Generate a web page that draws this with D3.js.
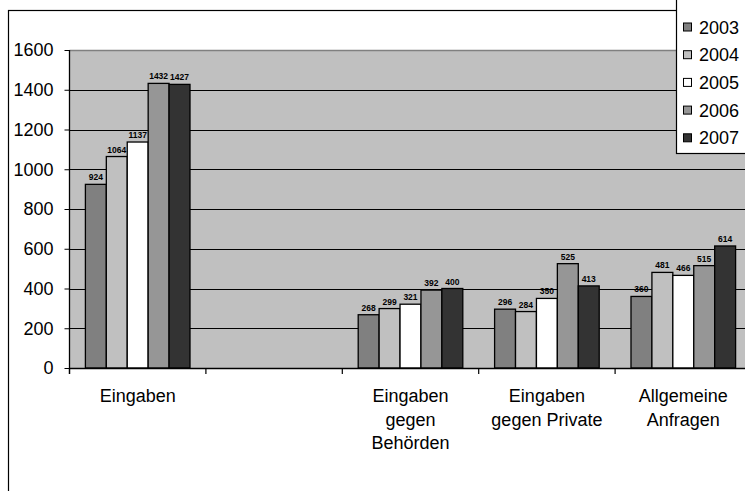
<!DOCTYPE html>
<html>
<head>
<meta charset="utf-8">
<script src="https://cdn.jsdelivr.net/npm/d3@7"></script>
<style>
  html, body { margin: 0; padding: 0; background: #fff; }
  svg { display: block; font-family: "Liberation Sans", Arial, sans-serif; }
</style>
</head>
<body>
<svg id="chart" width="745" height="491"></svg>
<script>
// Categories (the second slot is an empty category in the source table)
const categories = ["Eingaben", "", "Eingaben\ngegen\nBehörden", "Eingaben\ngegen Private", "Allgemeine\nAnfragen"];
const years = ["2003", "2004", "2005", "2006", "2007"];

// One value list per year, aligned with the categories
const values2003 = [924, null, 268, 296, 360];
const values2004 = [1064, null, 299, 284, 481];
const values2005 = [1137, null, 321, 350, 466];
const values2006 = [1432, null, 392, 525, 515];
const values2007 = [1427, null, 400, 413, 614];

const yTicks = [0, 200, 400, 600, 800, 1000, 1200, 1400, 1600];
const yearColors = ["#808080", "#c0c0c0", "#ffffff", "#969696", "#333333"];

const seriesValues = [values2003, values2004, values2005, values2006, values2007];
const catIds = categories.map((c, i) => "c" + i);

const svg = d3.select("#chart");

// Outer chart frame (runs off the right and bottom edges)
svg.append("rect")
  .attr("x", 8.5).attr("y", 10.5)
  .attr("width", 800).attr("height", 600)
  .attr("fill", "#fff").attr("stroke", "#000").attr("stroke-width", 1.2);

const plotLeft = 69.5, plotRight = 751.5, plotTop = 50, plotBottom = 368;

const x = d3.scaleBand().domain(catIds).range([plotLeft, plotRight]).paddingInner(0).paddingOuter(0);
const xs = d3.scaleBand().domain(years).range([0, x.bandwidth()]).paddingInner(0).paddingOuter(0.76);
const y = d3.scaleLinear().domain([0, 1600]).range([plotBottom, plotTop]);

// Plot background
svg.append("rect")
  .attr("x", plotLeft).attr("y", y(1600))
  .attr("width", plotRight - plotLeft).attr("height", y(0) - y(1600))
  .attr("fill", "#c0c0c0");

// Horizontal gridlines
svg.append("g").selectAll("line")
  .data(yTicks.filter(v => v > 0 && v < 1600))
  .join("line")
  .attr("x1", plotLeft).attr("x2", plotRight)
  .attr("y1", d => Math.round(y(d)) + 0.5).attr("y2", d => Math.round(y(d)) + 0.5)
  .attr("stroke", "#000").attr("stroke-width", 1);

// Top border of the plot area
svg.append("line")
  .attr("x1", plotLeft).attr("x2", plotRight)
  .attr("y1", y(1600) + 0.5).attr("y2", y(1600) + 0.5)
  .attr("stroke", "#808080").attr("stroke-width", 1.5);

// Bars
const groups = svg.append("g").selectAll("g")
  .data(catIds)
  .join("g")
  .attr("transform", d => `translate(${x(d)},0)`);

groups.each(function (id, ci) {
  const g = d3.select(this);
  const pts = years.map((yr, si) => ({ yr, si, v: seriesValues[si][ci] })).filter(p => p.v != null);
  g.selectAll("rect")
    .data(pts)
    .join("rect")
    .attr("x", p => xs(p.yr))
    .attr("y", p => y(p.v))
    .attr("width", xs.bandwidth())
    .attr("height", p => y(0) - y(p.v))
    .attr("fill", p => yearColors[p.si])
    .attr("stroke", "#000").attr("stroke-width", 1.3);
  g.selectAll("text")
    .data(pts)
    .join("text")
    .attr("x", p => xs(p.yr) + xs.bandwidth() / 2)
    .attr("y", p => y(p.v) - 4)
    .attr("text-anchor", "middle")
    .attr("font-size", "8.5px").attr("font-weight", "bold")
    .attr("fill", "#000")
    .text(p => p.v);
});

// Y axis
const yAxis = d3.axisLeft(y).tickValues(yTicks).tickSize(5).tickPadding(11).tickFormat(d3.format("d"));
const yg = svg.append("g").attr("transform", `translate(${plotLeft},0)`).call(yAxis);
yg.select(".domain").attr("stroke", "#000").attr("stroke-width", 1.3).attr("d", `M0,${plotBottom + 6}V${plotTop}`);
yg.selectAll(".tick line").attr("stroke", "#000");
yg.selectAll(".tick text").attr("font-size", "18px").attr("fill", "#000")
  .attr("font-family", "'Liberation Sans', Arial, sans-serif");

// X axis line and category boundary ticks
svg.append("line")
  .attr("x1", plotLeft).attr("x2", plotRight)
  .attr("y1", plotBottom + 0.5).attr("y2", plotBottom + 0.5)
  .attr("stroke", "#000").attr("stroke-width", 1.3);
svg.append("g").selectAll("line")
  .data(catIds)
  .join("line")
  .attr("x1", d => x(d)).attr("x2", d => x(d))
  .attr("y1", plotBottom).attr("y2", plotBottom + 6)
  .attr("stroke", "#000").attr("stroke-width", 1.2);

// Category labels
svg.append("g").selectAll("text")
  .data(catIds)
  .join("text")
  .attr("x", d => x(d) + x.bandwidth() / 2)
  .attr("y", 402)
  .attr("text-anchor", "middle")
  .attr("font-size", "18px").attr("fill", "#000")
  .each(function (d, i) {
    const lines = categories[i].split("\n");
    d3.select(this).selectAll("tspan")
      .data(lines)
      .join("tspan")
      .attr("x", x(d) + x.bandwidth() / 2)
      .attr("dy", (l, j) => j === 0 ? 0 : 23.5)
      .text(l => l);
  });

// Legend (extends past the top and right edges)
const legend = svg.append("g");
legend.append("rect")
  .attr("x", 676.5).attr("y", -2)
  .attr("width", 90).attr("height", 155.5)
  .attr("fill", "#fff").attr("stroke", "#000").attr("stroke-width", 1.2);
const items = legend.selectAll("g.item")
  .data(years)
  .join("g")
  .attr("class", "item")
  .attr("transform", (d, i) => `translate(0,${27 + i * 27.7})`);
items.append("rect")
  .attr("x", 683.5).attr("y", -4)
  .attr("width", 8).attr("height", 8)
  .attr("fill", (d, i) => yearColors[i])
  .attr("stroke", "#000").attr("stroke-width", 1);
items.append("text")
  .attr("x", 699).attr("y", 6.5)
  .attr("font-size", "18px").attr("fill", "#000")
  .text(d => d);
</script>
</body>
</html>
